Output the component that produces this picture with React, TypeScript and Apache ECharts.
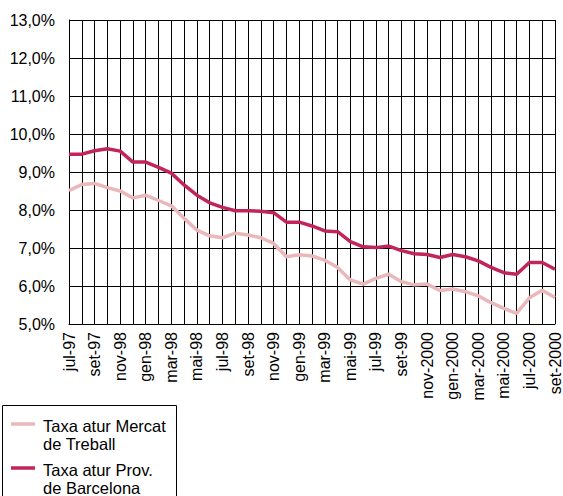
import React, { useEffect, useRef } from "react";
import * as echarts from "echarts";

const categories = [
  "jul-97", "ago-97", "set-97", "oct-97", "nov-98", "des-98", "gen-98", "feb-98",
  "mar-98", "abr-98", "mai-98", "jun-98", "jul-98", "ago-98", "set-98", "oct-98",
  "nov-99", "des-99", "gen-99", "feb-99", "mar-99", "abr-99", "mai-99", "jun-99",
  "jul-99", "ago-99", "set-99", "oct-99", "nov-2000", "des-2000", "gen-2000", "feb-2000",
  "mar-2000", "abr-2000", "mai-2000", "jun-2000", "jul-2000", "ago-2000", "set-2000",
];

const mercatTreball = [
  8.51, 8.67, 8.70, 8.59, 8.50, 8.32, 8.39, 8.25, 8.11, 7.78,
  7.47, 7.32, 7.27, 7.39, 7.34, 7.27, 7.12, 6.77, 6.82, 6.79,
  6.68, 6.49, 6.16, 6.05, 6.20, 6.31, 6.11, 6.03, 6.05, 5.88,
  5.92, 5.85, 5.74, 5.56, 5.41, 5.28, 5.69, 5.89, 5.70,
];

const provBarcelona = [
  9.47, 9.47, 9.56, 9.61, 9.55, 9.26, 9.26, 9.12, 8.97, 8.66,
  8.39, 8.19, 8.07, 7.98, 7.98, 7.97, 7.93, 7.68, 7.68, 7.58,
  7.45, 7.43, 7.17, 7.03, 7.01, 7.05, 6.93, 6.85, 6.83, 6.75,
  6.83, 6.77, 6.66, 6.49, 6.35, 6.31, 6.62, 6.62, 6.44,
];

const seriesNames = ["Taxa atur Mercat de Treball", "Taxa atur Prov. de Barcelona"];
const legendLines = [
  ["Taxa atur Mercat", "de Treball"],
  ["Taxa atur Prov.", "de Barcelona"],
];

const LIGHT = "#EAB7BA";
const DARK = "#C2255B";
const FONT = "'Liberation Sans', Arial, sans-serif";

export default function App() {
  const ref = useRef<HTMLDivElement>(null);
  useEffect(() => {
    if (!ref.current) return;
    const chart = echarts.init(ref.current, null, { renderer: "svg" });
    chart.setOption({
      animation: false,
      backgroundColor: "#fff",
      grid: { left: 69, right: 2, top: 20, bottom: 172, containLabel: false },
      xAxis: {
        type: "category",
        data: categories,
        boundaryGap: false,
        axisLine: { show: true, lineStyle: { color: "#000", width: 1 } },
        axisTick: { show: false },
        axisLabel: {
          interval: 1,
          rotate: 90,
          fontSize: 16,
          color: "#000",
          fontFamily: FONT,
          margin: 8,
        },
        splitLine: { show: true, interval: 0, lineStyle: { color: "#000", width: 1 } },
      },
      yAxis: {
        type: "value",
        min: 5,
        max: 13,
        interval: 1,
        axisLine: { show: true, lineStyle: { color: "#000", width: 1 } },
        axisTick: { show: false },
        axisLabel: {
          formatter: (v: number) => v.toFixed(1).replace(".", ",") + "%",
          fontSize: 16,
          color: "#000",
          fontFamily: FONT,
          margin: 14,
        },
        splitLine: { show: true, lineStyle: { color: "#000", width: 1 } },
      },
      series: [
        {
          name: seriesNames[0],
          type: "line",
          data: mercatTreball,
          symbol: "none",
          lineStyle: { color: LIGHT, width: 3.5 },
          itemStyle: { color: LIGHT },
        },
        {
          name: seriesNames[1],
          type: "line",
          data: provBarcelona,
          symbol: "none",
          lineStyle: { color: DARK, width: 3.5 },
          itemStyle: { color: DARK },
        },
      ],
      graphic: [
        {
          type: "rect",
          shape: { x: 2.5, y: 405.5, width: 174, height: 100 },
          style: { fill: "#fff", stroke: "#000", lineWidth: 1 },
        },
        {
          type: "line",
          shape: { x1: 11, y1: 424, x2: 35, y2: 424 },
          style: { stroke: LIGHT, lineWidth: 3.5 },
        },
        {
          type: "text",
          x: 43,
          y: 416.5,
          style: {
            text: legendLines[0].join("\n"),
            fontSize: 16.5,
            lineHeight: 18,
            fontFamily: FONT,
            fill: "#000",
            verticalAlign: "top",
          },
        },
        {
          type: "line",
          shape: { x1: 11, y1: 468, x2: 35, y2: 468 },
          style: { stroke: DARK, lineWidth: 3.5 },
        },
        {
          type: "text",
          x: 43,
          y: 460.5,
          style: {
            text: legendLines[1].join("\n"),
            fontSize: 16.5,
            lineHeight: 18,
            fontFamily: FONT,
            fill: "#000",
            verticalAlign: "top",
          },
        },
      ],
    });
    return () => chart.dispose();
  }, []);
  return <div ref={ref} style={{ width: 563, height: 496, position: "absolute", left: 0, top: 0 }} />;
}
